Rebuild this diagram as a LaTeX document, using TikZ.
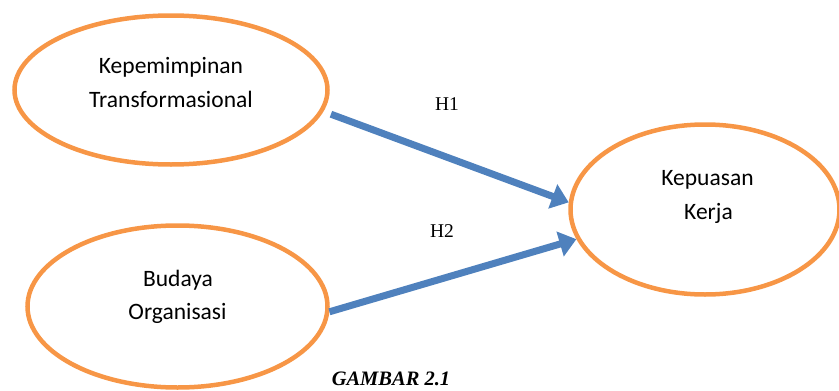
\documentclass[tikz,border=0pt]{standalone}
\usepackage{fontspec}
\setmainfont{Liberation Serif}
\newfontfamily\calib{Carlito}
\usetikzlibrary{shapes.geometric,arrows.meta}
\definecolor{ovalorange}{HTML}{F79646}
\definecolor{arrowblue}{HTML}{4F81BD}
\tikzset{
  oval/.style={ellipse, draw=ovalorange, line width=4.5pt, inner sep=0pt},
  ovaltext/.style={anchor=base, inner sep=0pt, font=\calib\fontsize{23.5}{28}\selectfont},
  hyplabel/.style={anchor=base, inner sep=0pt, font=\fontsize{19.5}{23}\selectfont},
  arr/.style={draw=arrowblue, line width=7pt, -{Triangle[length=17pt,width=25pt]}}
}
\begin{document}
\begin{tikzpicture}[x=1pt,y=-1pt]
\useasboundingbox (0,0) rectangle (839,391);
\node[oval, minimum width=313pt, minimum height=149pt] (e1) at (171,90) {};
\node[oval, minimum width=300pt, minimum height=162pt] (e2) at (177.5,306.5) {};
\node[oval, minimum width=269pt, minimum height=170pt] (e3) at (705,209.5) {};
\node[ovaltext] (t1a) at (171,73) {Kepemimpinan};
\node[ovaltext] (t1b) at (171,107) {Transformasional};
\node[ovaltext] (t2a) at (178,286) {Budaya};
\node[ovaltext] (t2b) at (177.5,319) {Organisasi};
\node[ovaltext] (t3a) at (707.5,185) {Kepuasan};
\node[ovaltext] (t3b) at (708.5,219) {Kerja};
\node[hyplabel] (h1) at (447,110) {H1};
\node[hyplabel] (h2) at (442,237) {H2};
\node[anchor=base, inner sep=0pt, font=\bfseries\itshape\fontsize{20.5}{24}\selectfont] (cap) at (391,385) {GAMBAR 2.1};
\draw[arr, shorten <=8pt] (e1.-8.5) -- (e3.177.5);
\draw[arr] (e2.-2) -- (e3.193);
\end{tikzpicture}
\end{document}
